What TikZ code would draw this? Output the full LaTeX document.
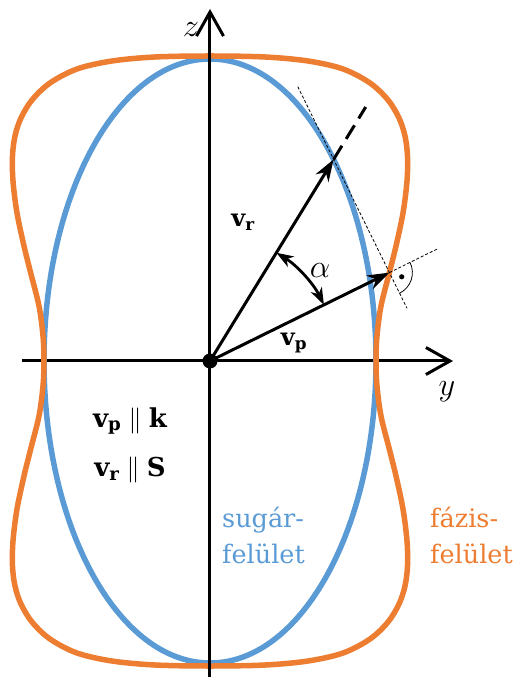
\RequirePackage{fix-cm}
\documentclass[tikz,border=0pt]{standalone}
\usepackage{fontspec}
\setmainfont{DejaVu Serif}
\usetikzlibrary{arrows.meta}
\definecolor{rayblue}{RGB}{91,155,213}
\definecolor{phaseorange}{RGB}{237,125,49}
\begin{document}
\begin{tikzpicture}[x=1pt,y=1pt,
  axisline/.style={line width=3pt,-{Straight Barb[length=24pt,width=27pt]}},
  surface/.style={line width=5.5pt},
  vec/.style={line width=3pt,-{Stealth[length=22pt,width=15pt,inset=7pt]}},
  anglearrow/.style={line width=2.8pt,{Stealth[length=17pt,width=12pt,inset=5pt]}-{Stealth[length=17pt,width=12pt,inset=5pt]}},
  thindash/.style={line width=0.8pt,dash pattern=on 3pt off 2pt},
  mathlab/.style={font=\fontsize{24}{24}\selectfont,scale=1.35},
  veclab/.style={font=\fontsize{24}{24}\selectfont},
  eqlab/.style={font=\fontsize{26}{26}\selectfont},
  surflab/.style={font=\fontsize{25.5}{36}\selectfont,anchor=base west,inner sep=0pt}]
\useasboundingbox (-210,-316) rectangle (306,361);
\coordinate (O) at (0,0);
\coordinate (P) at (123.6,201.6);
\coordinate (F) at (179.4,88.4);
\coordinate (Pext) at (155.7,254.0);
\coordinate (T1) at (87.8,274.3);
\coordinate (T2) at (197.0,52.7);
\coordinate (Fext) at (227.8,112.3);
\coordinate (zb) at (0,-316);
\coordinate (zt) at (0,352);
\coordinate (yl) at (-188,0);
\coordinate (yr) at (243,0);
% y axis
\draw[axisline] (yl) -- (yr);
% ray surface
\draw[surface,rayblue] (O) ellipse [x radius=166, y radius=302];
% phase surface
\draw[surface,phaseorange] plot[smooth cycle,tension=0.55] coordinates {
 (166,0) (167,25) (171,55) (179.4,88.4) (186,115) (193,148) (197,180) (197.5,205)
 (195,225) (189,243) (178,261) (160,278) (133,292) (98,300) (55,304) (0,305)
 (-55,304) (-98,300) (-133,292) (-160,278) (-178,261) (-189,243) (-195,225) (-197.5,205)
 (-197,180) (-193,148) (-186,115) (-179.4,88.4) (-171,55) (-167,25)
 (-166,0) (-167,-25) (-171,-55) (-179.4,-88.4) (-186,-115) (-193,-148) (-197,-180) (-197.5,-205)
 (-195,-225) (-189,-243) (-178,-261) (-160,-278) (-133,-292) (-98,-300) (-55,-304) (0,-305)
 (55,-304) (98,-300) (133,-292) (160,-278) (178,-261) (189,-243) (195,-225) (197.5,-205)
 (197,-180) (193,-148) (186,-115) (179.4,-88.4) (171,-55) (167,-25)};
% z axis
\draw[axisline] (zb) -- (zt);
% tangent line and normal extension
\draw[thindash] (T1) -- (T2);
\draw[thindash] (F) -- (Fext);
\draw[line width=0.8pt] ([shift={(26.23:23)}]F) arc[start angle=26.23,end angle=-63.77,radius=23];
\fill ([shift={(-18.8:13)}]F) circle (2.6);
% vectors
\draw[line width=3pt,dash pattern=on 16pt off 8pt] (P) -- (Pext);
\draw[vec] (O) -- (P);
\draw[vec] (O) -- (F);
\draw[anglearrow] ([shift={(26.23:127)}]O) arc[start angle=26.23,end angle=58.48,radius=127];
\fill (O) circle (7.5);
% labels
\node[mathlab] (zlab) at (-19,331) {$z$};
\node[mathlab] (ylab) at (237,-31) {$y$};
\node[mathlab] (alab) at (110,90) {$\alpha$};
\node[veclab] (vrlab) at (33,139) {$\mathbf{v}_\mathbf{r}$};
\node[veclab] (vplab) at (84,18) {$\mathbf{v}_\mathbf{p}$};
\node[eqlab] (eq1) at (-80,-60) {$\mathbf{v}_\mathbf{p}\parallel\mathbf{k}$};
\node[eqlab] (eq2) at (-80,-109) {$\mathbf{v}_\mathbf{r}\parallel\mathbf{S}$};
\node[surflab,text=rayblue] (s1) at (12,-166) {sugár-};
\node[surflab,text=rayblue] (s2) at (12,-202) {felület};
\node[surflab,text=phaseorange] (f1) at (220,-166) {fázis-};
\node[surflab,text=phaseorange] (f2) at (220,-202) {felület};
\end{tikzpicture}
\end{document}
